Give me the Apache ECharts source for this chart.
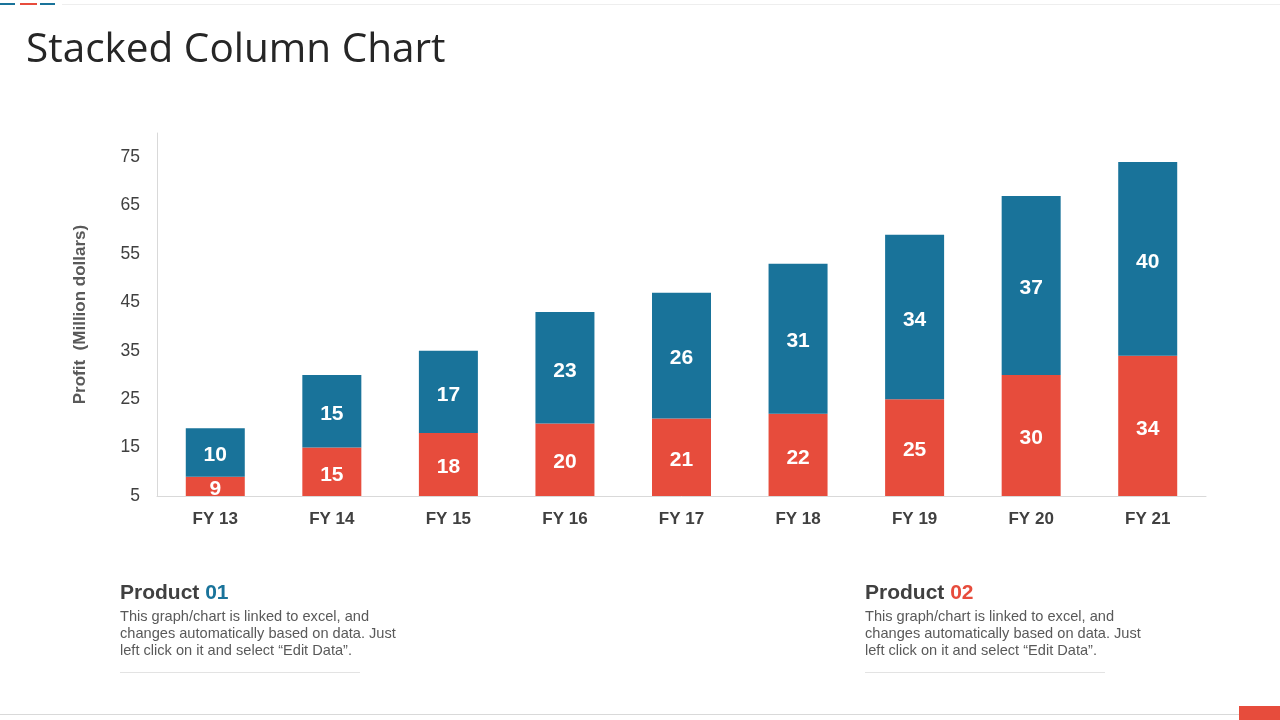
<!DOCTYPE html>
<html>
<head>
<meta charset="utf-8">
<script src="https://cdn.jsdelivr.net/npm/echarts@6/dist/echarts.min.js"></script>
<style>
html,body{margin:0;padding:0;background:#fff;}
#c{width:1280px;height:720px;}
</style>
</head>
<body>
<div id="c"></div>
<script>
const categories = ['FY 13','FY 14','FY 15','FY 16','FY 17','FY 18','FY 19','FY 20','FY 21'];
const product02 = [9,15,18,20,21,22,25,30,34];
const product01 = [10,15,17,23,26,31,34,37,40];
const yTicks = {min:5, max:80, interval:10};

const BLUE = '#19739A', RED = '#E74C3C';
const desc = 'This graph/chart is linked to excel, and\nchanges automatically based on data. Just\nleft click on it and select \u201cEdit Data\u201d.';

const chart = echarts.init(document.getElementById('c'));
const labelStyle = {show:true, position:'inside', offset:[0,3], color:'#fff', fontFamily:'Liberation Sans, Arial', fontWeight:'bold', fontSize:21};
chart.setOption({
  animation:false,
  grid:{left:157, right:74, top:133, bottom:224},
  xAxis:{type:'category', data:categories,
    axisLine:{lineStyle:{color:'#d9d9d9', width:1}}, axisTick:{show:false},
    axisLabel:{color:'#404040', fontFamily:'Liberation Sans, Arial', fontWeight:'bold', fontSize:17, margin:15}},
  yAxis:{type:'value', min:yTicks.min, max:yTicks.max, interval:yTicks.interval,
    name:'Profit  (Million dollars)', nameLocation:'middle', nameGap:68, nameRotate:90,
    nameTextStyle:{color:'#595959', fontFamily:'Liberation Sans, Arial', fontWeight:'bold', fontSize:17},
    axisLine:{show:true, lineStyle:{color:'#d9d9d9', width:1}}, axisTick:{show:false}, splitLine:{show:false},
    axisLabel:{color:'#404040', fontFamily:'Liberation Sans, Arial', fontSize:17.5, margin:17, showMaxLabel:false}},
  series:[
    {name:'Product 02', type:'bar', stack:'a', data:product02, barWidth:59, itemStyle:{color:RED}, label:labelStyle},
    {name:'Product 01', type:'bar', stack:'a', data:product01, barWidth:59, itemStyle:{color:BLUE}, label:labelStyle}
  ],
  graphic:[
    {type:'rect', shape:{x:0,y:3,width:15,height:2}, style:{fill:BLUE}},
    {type:'rect', shape:{x:20,y:3,width:17,height:2}, style:{fill:RED}},
    {type:'rect', shape:{x:40,y:3,width:15,height:2}, style:{fill:BLUE}},
    {type:'rect', shape:{x:62,y:4,width:1218,height:1}, style:{fill:'#eeeeee'}},
    {type:'text', left:26, top:30, style:{text:'Stacked Column Chart', fill:'#262626', fontFamily:'Open Sans, Segoe UI, sans-serif', fontWeight:400, fontSize:40.5}},
    {type:'text', left:120, top:583, style:{rich:{a:{fill:'#404040', fontWeight:'bold', fontSize:21, fontFamily:'Liberation Sans, Arial'}, b:{fill:BLUE, fontWeight:'bold', fontSize:21, fontFamily:'Liberation Sans, Arial'}}, text:'{a|Product }{b|01}'}},
    {type:'text', left:120, top:608, style:{text:desc, fill:'#595959', fontSize:14.6, lineHeight:17, fontFamily:'Liberation Sans, Arial'}},
    {type:'rect', shape:{x:120,y:672,width:240,height:1}, style:{fill:'#e3e3e3'}},
    {type:'text', left:865, top:583, style:{rich:{a:{fill:'#404040', fontWeight:'bold', fontSize:21, fontFamily:'Liberation Sans, Arial'}, b:{fill:RED, fontWeight:'bold', fontSize:21, fontFamily:'Liberation Sans, Arial'}}, text:'{a|Product }{b|02}'}},
    {type:'text', left:865, top:608, style:{text:desc, fill:'#595959', fontSize:14.6, lineHeight:17, fontFamily:'Liberation Sans, Arial'}},
    {type:'rect', shape:{x:865,y:672,width:240,height:1}, style:{fill:'#e3e3e3'}},
    {type:'rect', shape:{x:0,y:714,width:1240,height:1}, style:{fill:'#d9d9d9'}},
    {type:'rect', shape:{x:1239,y:706,width:41,height:14}, style:{fill:RED}}
  ]
});
</script>
</body>
</html>
